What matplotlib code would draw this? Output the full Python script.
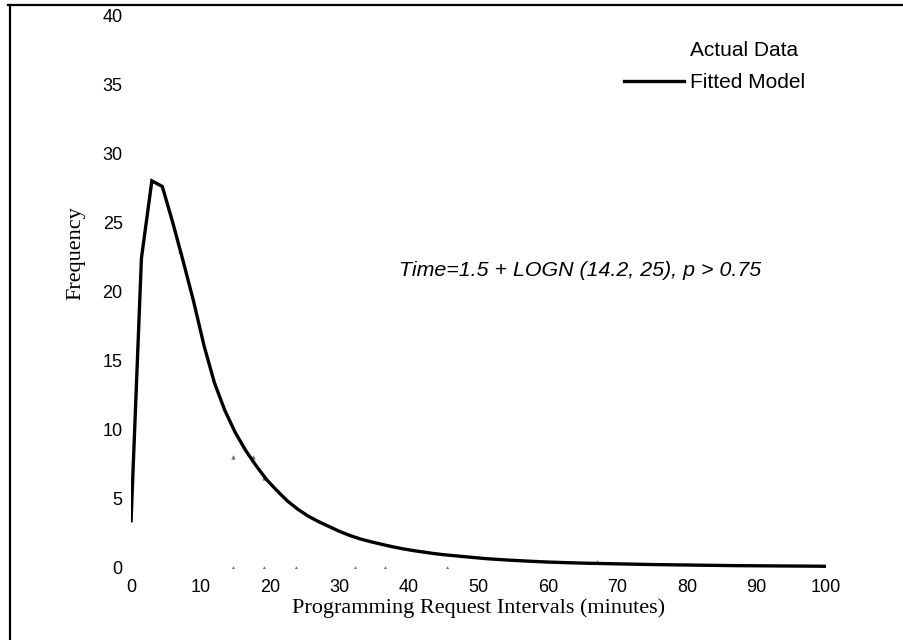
import matplotlib
matplotlib.use("Agg")
import matplotlib.pyplot as plt
from matplotlib.lines import Line2D

# Fitted model curve
fit_x = [0, 1.5, 3, 4.5, 6, 7.5, 9, 10.5, 12, 13.5, 15, 16.5, 18, 19.5, 21, 22.5,
         24, 25.5, 27, 28.5, 30, 31.5, 33, 34.5, 36, 37.5, 39, 40.5, 42, 43.5, 45,
         48, 51, 54, 57, 60, 63, 66, 69, 72, 75, 78, 81, 84, 87, 90, 93, 96, 99, 100]
fit_y = [3.3, 22.4, 28.0, 27.6, 25.0, 22.2, 19.3, 16.1, 13.4, 11.4, 9.8, 8.5, 7.4,
         6.4, 5.6, 4.85, 4.25, 3.75, 3.35, 3.0, 2.65, 2.35, 2.1, 1.9, 1.72, 1.55,
         1.4, 1.27, 1.16, 1.05, 0.96, 0.82, 0.68, 0.58, 0.50, 0.43, 0.38, 0.34,
         0.31, 0.28, 0.25, 0.23, 0.21, 0.19, 0.17, 0.16, 0.15, 0.14, 0.13, 0.12]

# Actual data (tiny markers visible in the picture)
act_x = [7.0, 14.7, 17.6, 19.1, 14.7, 19.1, 23.7, 32.2, 36.6, 45.4, 67.0]
act_y = [22.9, 8.0, 8.0, 6.5, 0.0, 0.0, 0.0, 0.0, 0.0, 0.0, 0.4]

x_ticks = [0, 10, 20, 30, 40, 50, 60, 70, 80, 90, 100]
y_ticks = [0, 5, 10, 15, 20, 25, 30, 35, 40]

W, H = 904, 640
fig = plt.figure(figsize=(W / 100, H / 100), dpi=100)
ax = fig.add_axes([131 / W, 1 - 568 / H, 695 / W, 553 / H])

sans = ["Liberation Sans", "DejaVu Sans"]
serif = ["Liberation Serif", "DejaVu Serif"]

ax.plot(fit_x, fit_y, color="black", lw=2.4, solid_joinstyle="miter",
        solid_capstyle="butt", label="Fitted Model", zorder=3)
ax.plot(act_x, act_y, linestyle="none", marker="^", markersize=2.5,
        color="#777777", markeredgewidth=0.5, label="Actual Data", zorder=2)

ax.set_xlim(0, 100)
ax.set_ylim(0, 40)
ax.set_xticks(x_ticks)
ax.set_yticks(y_ticks)
for s in ax.spines.values():
    s.set_visible(False)
ax.tick_params(length=0)
ax.tick_params(axis="x", pad=8)
ax.tick_params(axis="y", pad=6)
for lab in ax.get_xticklabels() + ax.get_yticklabels():
    lab.set_family(sans)
    lab.set_fontsize(13)

ax.set_xlabel("Programming Request Intervals (minutes)", family=serif, fontsize=16)
ax.xaxis.set_label_coords(0.5, -0.055)
ax.set_ylabel("Frequency", family=serif, fontsize=16)
ax.yaxis.set_label_coords(-0.065, 0.57)

ax.text(399, H - 270, "Time=1.5 + LOGN (14.2, 25), p > 0.75", transform=None,
        fontsize=15.4, style="italic", family=sans, va="center", ha="left")

handles = [Line2D([], [], linestyle="none", marker="^", markersize=0.1, color="white"),
           Line2D([], [], color="black", lw=2.4)]
leg = ax.legend(handles, ["Actual Data", "Fitted Model"], loc="upper right",
                bbox_to_anchor=((813 - 131) / 695, (568 - 33) / 553),
                frameon=False, handlelength=2.9, handletextpad=0.25,
                labelspacing=0.6, borderaxespad=0,
                prop={"family": sans, "size": 15})

# Outer frame (top and left border of the scanned figure)
fig.add_artist(Line2D([8 / W, 1], [1 - 4.5 / H, 1 - 4.5 / H], color="black", lw=1.6,
                      transform=fig.transFigure))
fig.add_artist(Line2D([9.5 / W, 9.5 / W], [0, 1 - 4.5 / H], color="black", lw=1.6,
                      transform=fig.transFigure))

fig.savefig("out.png", dpi=100)
